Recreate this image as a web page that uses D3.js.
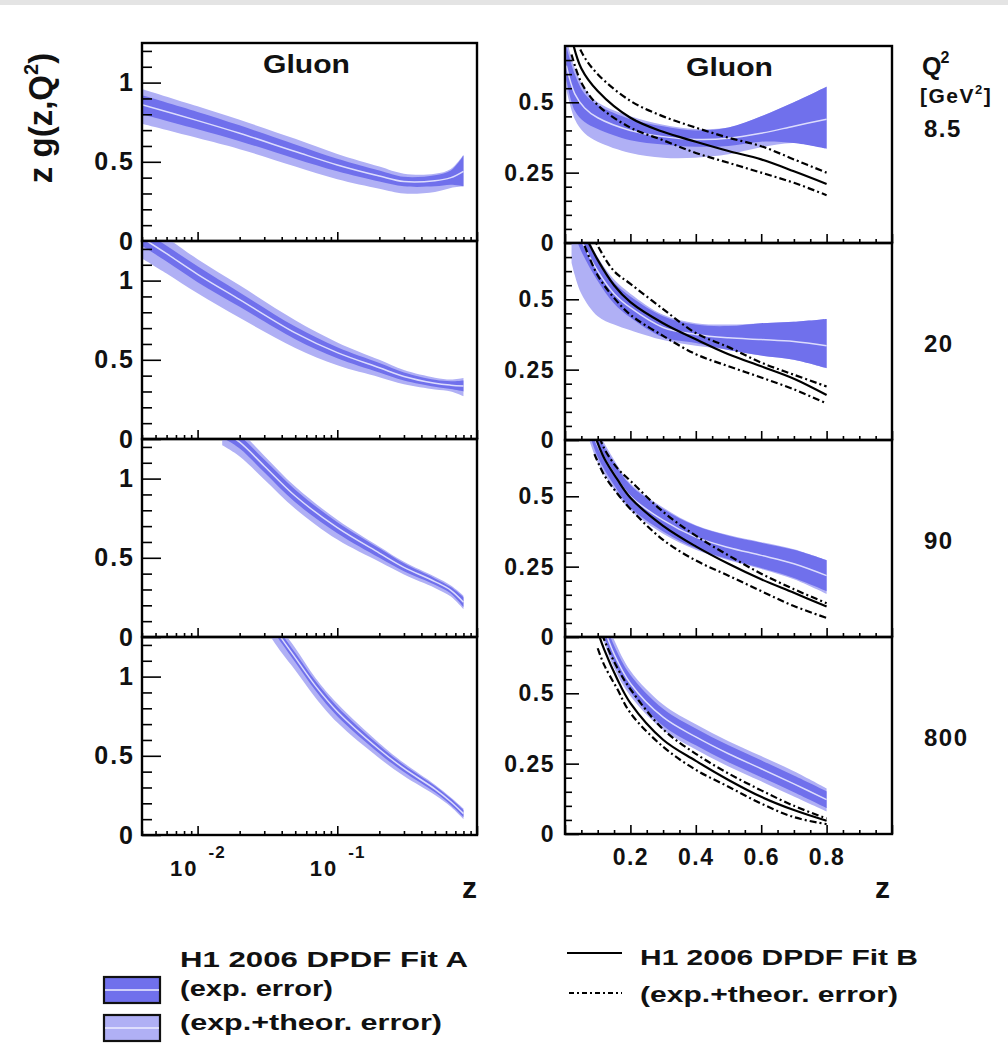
<!DOCTYPE html>
<html><head><meta charset="utf-8">
<script src="https://cdn.jsdelivr.net/npm/d3@7"></script>
<style>
body{margin:0;background:#fff;}
svg text{font-family:"Liberation Sans",Arial,Helvetica,sans-serif;font-weight:bold;fill:#111;}
</style></head><body>
<script>
// ---------------- DATA ----------------
const q2Labels = ["8.5", "20", "90", "800"];
const panelTitle = "Gluon";
const leftMajorY = [0, 0.5, 1];
const rightMajorY = [0, 0.25, 0.5];
const rightXTickLabels = [0.2, 0.4, 0.6, 0.8];
const leftXTickLabels = [0.01, 0.1];

// Left column (log z) – H1 2006 DPDF Fit A: centre, exp. band, exp.+theor. band
const L1_z   = [0.004, 0.01, 0.02, 0.05, 0.1, 0.2, 0.3, 0.5, 0.65, 0.8];
const L1_c   = [0.86, 0.76, 0.68, 0.565, 0.48, 0.41, 0.375, 0.38, 0.40, 0.44];
const L1_eLo = [0.80, 0.705, 0.63, 0.52, 0.44, 0.375, 0.345, 0.345, 0.355, 0.345];
const L1_eHi = [0.92, 0.815, 0.73, 0.61, 0.52, 0.445, 0.405, 0.415, 0.445, 0.54];
const L1_tLo = [0.74, 0.65, 0.58, 0.47, 0.39, 0.33, 0.30, 0.31, 0.335, 0.345];
const L1_tHi = [0.96, 0.85, 0.765, 0.645, 0.55, 0.47, 0.425, 0.425, 0.455, 0.545];

const L2_z   = [0.004, 0.006, 0.01, 0.02, 0.05, 0.1, 0.2, 0.3, 0.5, 0.65, 0.8];
const L2_c   = [1.27, 1.17, 1.04, 0.88, 0.67, 0.545, 0.45, 0.395, 0.352, 0.34, 0.335];
const L2_eLo = [1.22, 1.12, 0.99, 0.835, 0.63, 0.51, 0.42, 0.37, 0.33, 0.315, 0.30];
const L2_eHi = [1.32, 1.22, 1.09, 0.925, 0.71, 0.58, 0.48, 0.42, 0.374, 0.365, 0.37];
const L2_tLo = [1.14, 1.045, 0.92, 0.765, 0.575, 0.465, 0.39, 0.345, 0.312, 0.30, 0.27];
const L2_tHi = [1.37, 1.27, 1.135, 0.97, 0.75, 0.61, 0.50, 0.435, 0.387, 0.375, 0.385];

const L3_z   = [0.015, 0.02, 0.03, 0.05, 0.1, 0.2, 0.3, 0.5, 0.65, 0.8];
const L3_c   = [1.30, 1.23, 1.08, 0.89, 0.69, 0.53, 0.44, 0.35, 0.295, 0.22];
const L3_eLo = [1.26, 1.19, 1.04, 0.85, 0.655, 0.50, 0.415, 0.33, 0.275, 0.19];
const L3_eHi = [1.34, 1.27, 1.12, 0.93, 0.725, 0.56, 0.465, 0.37, 0.315, 0.25];
const L3_tLo = [1.21, 1.14, 0.995, 0.81, 0.615, 0.475, 0.395, 0.31, 0.255, 0.175];
const L3_tHi = [1.37, 1.30, 1.145, 0.95, 0.74, 0.57, 0.475, 0.38, 0.325, 0.26];

const L4_z   = [0.03, 0.04, 0.05, 0.07, 0.1, 0.2, 0.3, 0.5, 0.65, 0.8];
const L4_c   = [1.40, 1.24, 1.12, 0.94, 0.78, 0.54, 0.42, 0.29, 0.21, 0.135];
const L4_eLo = [1.37, 1.21, 1.09, 0.91, 0.75, 0.515, 0.398, 0.27, 0.19, 0.113];
const L4_eHi = [1.43, 1.27, 1.15, 0.97, 0.81, 0.565, 0.442, 0.31, 0.23, 0.157];
const L4_tLo = [1.31, 1.15, 1.04, 0.865, 0.71, 0.485, 0.372, 0.252, 0.178, 0.10];
const L4_tHi = [1.46, 1.30, 1.18, 0.99, 0.83, 0.58, 0.455, 0.318, 0.237, 0.167];

// Right column (linear z) – Fit A
const R1_z   = [0.004, 0.03, 0.06, 0.1, 0.2, 0.3, 0.4, 0.5, 0.6, 0.7, 0.8];
const R1_c   = [0.63, 0.53, 0.48, 0.445, 0.40, 0.378, 0.368, 0.372, 0.39, 0.415, 0.44];
const R1_eLo = [0.58, 0.47, 0.43, 0.405, 0.365, 0.35, 0.342, 0.345, 0.36, 0.355, 0.335];
const R1_eHi = [0.70, 0.60, 0.53, 0.49, 0.44, 0.415, 0.40, 0.41, 0.45, 0.50, 0.555];
const R1_tLo = [0.545, 0.44, 0.39, 0.36, 0.32, 0.303, 0.303, 0.315, 0.34, 0.355, 0.335];
const R1_tHi = [0.73, 0.62, 0.55, 0.50, 0.45, 0.42, 0.405, 0.41, 0.45, 0.50, 0.555];

const R2_z   = [0.02, 0.05, 0.1, 0.15, 0.2, 0.3, 0.4, 0.5, 0.6, 0.7, 0.8];
const R2_c   = [0.80, 0.71, 0.60, 0.52, 0.47, 0.40, 0.375, 0.363, 0.357, 0.35, 0.335];
const R2_eLo = [0.76, 0.67, 0.565, 0.485, 0.435, 0.365, 0.345, 0.32, 0.30, 0.285, 0.255];
const R2_eHi = [0.84, 0.75, 0.635, 0.56, 0.51, 0.44, 0.41, 0.405, 0.415, 0.42, 0.43];
const R2_tLo = [0.63, 0.52, 0.44, 0.41, 0.39, 0.355, 0.335, 0.32, 0.30, 0.285, 0.255];
const R2_tHi = [0.86, 0.77, 0.65, 0.57, 0.52, 0.445, 0.415, 0.41, 0.415, 0.42, 0.43];

const R3_z   = [0.07, 0.1, 0.15, 0.2, 0.3, 0.4, 0.5, 0.6, 0.7, 0.8];
const R3_c   = [0.78, 0.68, 0.58, 0.50, 0.415, 0.355, 0.318, 0.29, 0.26, 0.218];
const R3_eLo = [0.74, 0.64, 0.54, 0.46, 0.375, 0.315, 0.276, 0.245, 0.21, 0.163];
const R3_eHi = [0.82, 0.72, 0.62, 0.54, 0.455, 0.395, 0.36, 0.335, 0.31, 0.273];
const R3_tLo = [0.715, 0.62, 0.525, 0.45, 0.367, 0.31, 0.273, 0.242, 0.205, 0.153];
const R3_tHi = [0.84, 0.735, 0.63, 0.545, 0.46, 0.397, 0.362, 0.337, 0.312, 0.273];

const R4_z   = [0.1, 0.12, 0.15, 0.2, 0.3, 0.4, 0.5, 0.6, 0.7, 0.8];
const R4_c   = [0.80, 0.73, 0.64, 0.535, 0.415, 0.345, 0.285, 0.232, 0.178, 0.122];
const R4_eLo = [0.77, 0.70, 0.61, 0.505, 0.385, 0.315, 0.255, 0.202, 0.148, 0.092];
const R4_eHi = [0.83, 0.76, 0.67, 0.565, 0.445, 0.375, 0.315, 0.262, 0.208, 0.152];
const R4_tLo = [0.75, 0.68, 0.59, 0.49, 0.37, 0.30, 0.24, 0.187, 0.133, 0.08];
const R4_tHi = [0.85, 0.78, 0.69, 0.58, 0.46, 0.39, 0.33, 0.277, 0.223, 0.162];

// Right column – H1 2006 DPDF Fit B: centre and exp.+theor. error
const B1_z  = [0.02, 0.05, 0.1, 0.2, 0.3, 0.4, 0.5, 0.6, 0.7, 0.8];
const B1_c  = [0.73, 0.62, 0.54, 0.445, 0.395, 0.36, 0.327, 0.297, 0.255, 0.21];
const B1_hi = [0.79, 0.68, 0.60, 0.505, 0.45, 0.41, 0.374, 0.344, 0.297, 0.25];
const B1_lo = [0.67, 0.57, 0.49, 0.41, 0.365, 0.32, 0.285, 0.25, 0.214, 0.17];

const B2_z  = [0.06, 0.1, 0.15, 0.2, 0.3, 0.4, 0.5, 0.6, 0.7, 0.8];
const B2_c  = [0.73, 0.64, 0.55, 0.49, 0.415, 0.358, 0.305, 0.262, 0.218, 0.16];
const B2_hi = [0.78, 0.69, 0.60, 0.555, 0.465, 0.38, 0.33, 0.275, 0.232, 0.19];
const B2_lo = [0.69, 0.585, 0.505, 0.445, 0.37, 0.305, 0.262, 0.222, 0.18, 0.13];

const B3_z  = [0.09, 0.12, 0.16, 0.2, 0.3, 0.4, 0.5, 0.6, 0.7, 0.8];
const B3_c  = [0.72, 0.635, 0.56, 0.495, 0.395, 0.322, 0.26, 0.205, 0.157, 0.108];
const B3_hi = [0.76, 0.67, 0.60, 0.555, 0.445, 0.36, 0.29, 0.225, 0.17, 0.12];
const B3_lo = [0.65, 0.575, 0.51, 0.455, 0.345, 0.272, 0.218, 0.163, 0.11, 0.068];

const B4_z  = [0.1, 0.12, 0.16, 0.2, 0.3, 0.4, 0.5, 0.6, 0.7, 0.8];
const B4_c  = [0.72, 0.655, 0.55, 0.465, 0.335, 0.26, 0.192, 0.132, 0.085, 0.047];
const B4_hi = [0.76, 0.69, 0.59, 0.515, 0.372, 0.285, 0.215, 0.155, 0.10, 0.055];
const B4_lo = [0.66, 0.60, 0.515, 0.43, 0.31, 0.228, 0.168, 0.108, 0.06, 0.035];

// ---------------- BUILD ----------------
const leftSets = [
  {z:L1_z,c:L1_c,eLo:L1_eLo,eHi:L1_eHi,tLo:L1_tLo,tHi:L1_tHi},
  {z:L2_z,c:L2_c,eLo:L2_eLo,eHi:L2_eHi,tLo:L2_tLo,tHi:L2_tHi},
  {z:L3_z,c:L3_c,eLo:L3_eLo,eHi:L3_eHi,tLo:L3_tLo,tHi:L3_tHi},
  {z:L4_z,c:L4_c,eLo:L4_eLo,eHi:L4_eHi,tLo:L4_tLo,tHi:L4_tHi}
];
const rightSets = [
  {z:R1_z,c:R1_c,eLo:R1_eLo,eHi:R1_eHi,tLo:R1_tLo,tHi:R1_tHi,bz:B1_z,bc:B1_c,bLo:B1_lo,bHi:B1_hi},
  {z:R2_z,c:R2_c,eLo:R2_eLo,eHi:R2_eHi,tLo:R2_tLo,tHi:R2_tHi,bz:B2_z,bc:B2_c,bLo:B2_lo,bHi:B2_hi},
  {z:R3_z,c:R3_c,eLo:R3_eLo,eHi:R3_eHi,tLo:R3_tLo,tHi:R3_tHi,bz:B3_z,bc:B3_c,bLo:B3_lo,bHi:B3_hi},
  {z:R4_z,c:R4_c,eLo:R4_eLo,eHi:R4_eHi,tLo:R4_tLo,tHi:R4_tHi,bz:B4_z,bc:B4_c,bLo:B4_lo,bHi:B4_hi}
];
const rowsA = s => s.z.map((z,i)=>({z, c:s.c[i], eLo:s.eLo[i], eHi:s.eHi[i], tLo:s.tLo[i], tHi:s.tHi[i]}));
const rowsB = s => s.bz.map((z,i)=>({z, c:s.bc[i], lo:s.bLo[i], hi:s.bHi[i]}));

const W = 1008, H = 1059;
const DARK = "#7070ec", LIGHT = "#b0b0f5";
const CURVE = d3.curveCatmullRom.alpha(0.5);
const svg = d3.select("body").append("svg").attr("width", W).attr("height", H);
const defs = svg.append("defs");
svg.append("rect").attr("x",0).attr("y",0).attr("width",W).attr("height",5).attr("fill","#e4e4e4");

const LX = d3.scaleLog().domain([0.004, 1]).range([142, 477]);
const RX = d3.scaleLinear().domain([0, 1]).range([565, 892]);
const leftTop = 43, leftH = 198, rightTop = 46, rightH = 197;

const near = (a, list) => list.some(b => Math.abs(a-b) < 1e-6);
const leftMinorY = d3.range(1, 13).map(k => k/10).filter(v => !near(v, leftMajorY));
const rightMinorY = d3.range(1, 14).map(k => k/20).filter(v => !near(v, rightMajorY));
const leftMajorX = [0.01, 0.1, 1];
const leftMinorX = [];
[-3,-2,-1].forEach(e => d3.range(2,10).forEach(m => { const v = m*Math.pow(10,e); if (v >= 0.0039 && v < 1) leftMinorX.push(v); }));
const rightMajorX = d3.range(0, 6).map(k => k/5);
const rightMinorX = d3.range(1, 20).map(k => k/20).filter(v => !near(v, rightMajorX));

function styleAxis(g, fs, ls) {
  g.select(".domain").remove();
  g.selectAll("line").attr("stroke", "#000").attr("stroke-width", 1.6);
  g.selectAll("text").style("font-size", fs + "px").style("letter-spacing", (ls || 1.5) + "px").attr("fill", "#111");
}

function drawPanel(i, side) {
  const isL = side === "L";
  const x = isL ? LX : RX;
  const top = isL ? leftTop + i*leftH : rightTop + i*rightH;
  const h = isL ? leftH : rightH;
  const y = d3.scaleLinear().domain([0, isL ? 1.25 : 0.7]).range([top + h, top]);
  const [x0, x1] = x.range();
  const g = svg.append("g");
  const cid = "clip" + side + i;
  defs.append("clipPath").attr("id", cid).append("rect")
    .attr("x", x0).attr("y", top).attr("width", x1 - x0).attr("height", h);
  const plot = g.append("g").attr("clip-path", `url(#${cid})`);
  const set = isL ? leftSets[i] : rightSets[i];
  const A = rowsA(set);
  const area = (lo, hi) => d3.area().x(d => x(d.z)).y0(d => y(d[lo])).y1(d => y(d[hi])).curve(CURVE);
  const line = key => d3.line().x(d => x(d.z)).y(d => y(d[key])).curve(CURVE);
  plot.append("path").datum(A).attr("d", area("tLo", "tHi")).attr("fill", LIGHT);
  plot.append("path").datum(A).attr("d", area("eLo", "eHi")).attr("fill", DARK);
  plot.append("path").datum(A).attr("d", line("c")).attr("fill", "none")
    .attr("stroke", "#eeeeff").attr("stroke-width", 1.5).attr("opacity", 0.85);
  if (!isL) {
    const B = rowsB(set);
    plot.append("path").datum(B).attr("d", line("c")).attr("fill", "none")
      .attr("stroke", "#000").attr("stroke-width", 2.2);
    ["lo", "hi"].forEach(k => plot.append("path").datum(B).attr("d", line(k)).attr("fill", "none")
      .attr("stroke", "#000").attr("stroke-width", 2.2).attr("stroke-dasharray", "7,3,2,3"));
  }
  // y axis (ticks inside)
  const minY = isL ? leftMinorY : rightMinorY, majY = isL ? leftMajorY : rightMajorY;
  g.append("g").attr("transform", `translate(${x0},0)`)
    .call(d3.axisLeft(y).tickValues(minY).tickSize(isL ? -10 : -7).tickFormat(""))
    .call(a => styleAxis(a, 22));
  g.append("g").attr("transform", `translate(${x0},0)`)
    .call(d3.axisLeft(y).tickValues(majY).tickSize(isL ? -19 : -14).tickPadding(isL ? 7 : 10)
      .tickFormat(d => d === 0 ? "0" : String(d)))
    .call(a => styleAxis(a, isL ? 25 : 23, isL ? 2 : 1.5));
  // x axis (ticks pointing up)
  const minX = isL ? leftMinorX : rightMinorX, majX = isL ? leftMajorX : rightMajorX;
  g.append("g").attr("transform", `translate(0,${top + h})`)
    .call(d3.axisBottom(x).tickValues(minX).tickSize(-4).tickFormat(""))
    .call(a => styleAxis(a, 22));
  const bottom = i === 3 && !isL;
  g.append("g").attr("transform", `translate(0,${top + h})`)
    .call(d3.axisBottom(x).tickValues(majX).tickSize(-9).tickPadding(15)
      .tickFormat(d => (bottom && near(d, rightXTickLabels)) ? d3.format(".1f")(d) : ""))
    .call(a => styleAxis(a, 23));
  // frame
  g.append("rect").attr("x", x0).attr("y", top).attr("width", x1 - x0).attr("height", h)
    .attr("fill", "none").attr("stroke", "#000").attr("stroke-width", 2.4);
  // title
  if (i === 0) {
    svg.append("text").attr("x", (x0 + x1) / 2 - (isL ? 3 : -1)).attr("y", top + 30)
      .attr("text-anchor", "middle").style("font-size", "26px")
      .attr("textLength", 87).attr("lengthAdjust", "spacingAndGlyphs").text(panelTitle);
  }
}
for (let i = 0; i < 4; i++) { drawPanel(i, "L"); drawPanel(i, "R"); }

// log-axis labels 10^-2, 10^-1
leftXTickLabels.forEach(v => {
  const xp = LX(v);
  svg.append("text").attr("x", xp + 1).attr("y", 876).attr("text-anchor", "end")
    .style("font-size", "22px").style("letter-spacing", "2px").attr("fill", "#222").text("10");
  svg.append("text").attr("x", xp + 11).attr("y", 858)
    .style("font-size", "17px").style("letter-spacing", "1px").attr("fill", "#222").text(String(Math.round(Math.log10(v))));
});

// axis titles
svg.append("text").attr("x", 477).attr("y", 898).attr("text-anchor", "end").style("font-size", "30px").text("z");
svg.append("text").attr("x", 890).attr("y", 898).attr("text-anchor", "end").style("font-size", "30px").text("z");
const yt = svg.append("text").attr("transform", "translate(52,118) rotate(-90)").attr("text-anchor", "middle").style("font-size", "33px");
yt.append("tspan").text("z g(z,Q");
yt.append("tspan").attr("dy", -14).style("font-size", "20px").text("2");
yt.append("tspan").attr("dy", 14).text(")");

// Q² header and values
const qh = svg.append("text").attr("x", 922).attr("y", 75).style("font-size", "25px");
qh.append("tspan").text("Q");
qh.append("tspan").attr("dx", -1).attr("dy", -12).style("font-size", "16px").text("2");
const gh = svg.append("text").attr("x", 920).attr("y", 103).style("font-size", "21px").style("letter-spacing", "1.5px");
gh.append("tspan").text("[GeV");
gh.append("tspan").attr("dy", -9).style("font-size", "13px").text("2");
gh.append("tspan").attr("dy", 9).text("]");
const qBase = [137, 352, 549, 746];
q2Labels.forEach((q, i) => svg.append("text").attr("x", 924).attr("y", qBase[i])
  .style("font-size", "24px").style("letter-spacing", "1.5px").text(q));

// legend – Fit A
[[977, DARK], [1015, LIGHT]].forEach(([yy, col]) => {
  svg.append("rect").attr("x", 104).attr("y", yy).attr("width", 56).attr("height", 26)
    .attr("fill", col).attr("stroke", "#111").attr("stroke-width", 2.2);
  svg.append("line").attr("x1", 105).attr("x2", 159).attr("y1", yy + 13).attr("y2", yy + 13)
    .attr("stroke", "#eeeeff").attr("stroke-width", 1.5);
});
const legA = [["H1 2006 DPDF Fit A", 967, 288], ["(exp. error)", 996, 153], ["(exp.+theor. error)", 1030, 262]];
legA.forEach(([t, yy, w]) => svg.append("text").attr("x", 180).attr("y", yy).style("font-size", "22px")
  .attr("textLength", w).attr("lengthAdjust", "spacingAndGlyphs").text(t));
// legend – Fit B
svg.append("line").attr("x1", 567).attr("x2", 622).attr("y1", 953).attr("y2", 953).attr("stroke", "#000").attr("stroke-width", 2);
svg.append("line").attr("x1", 569).attr("x2", 622).attr("y1", 993).attr("y2", 993).attr("stroke", "#000").attr("stroke-width", 2).attr("stroke-dasharray", "5,3,2,3");
const legB = [["H1 2006 DPDF Fit B", 965, 278], ["(exp.+theor. error)", 1002, 258]];
legB.forEach(([t, yy, w]) => svg.append("text").attr("x", 640).attr("y", yy).style("font-size", "22px")
  .attr("textLength", w).attr("lengthAdjust", "spacingAndGlyphs").text(t));
</script></body></html>
